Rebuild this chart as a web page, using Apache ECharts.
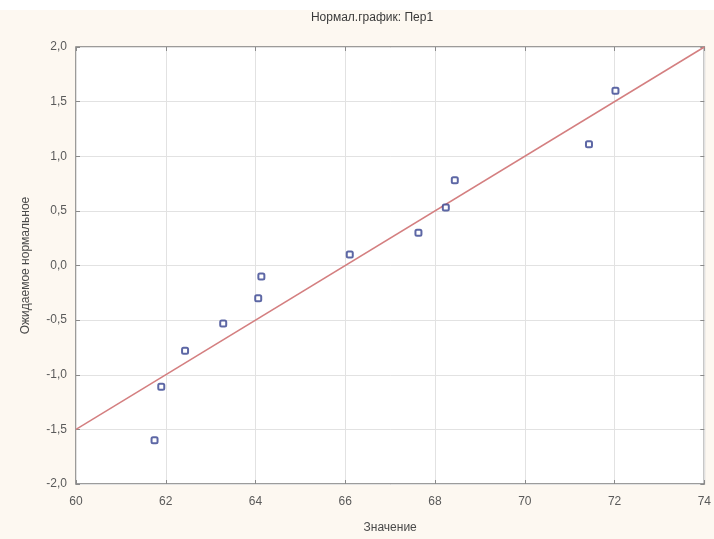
<!DOCTYPE html>
<html>
<head>
<meta charset="utf-8">
<script src="https://cdn.jsdelivr.net/npm/echarts@6/dist/echarts.min.js"></script>
<style>
  html, body { margin: 0; padding: 0; background: #fdf8f1; }
  #chart { width: 714px; height: 539px; }
</style>
</head>
<body>
<div id="chart"></div>
<script>
// Observed values (Пер1) and their expected normal scores
const values   = [61.75, 61.90, 62.43, 63.28, 64.06, 64.13, 66.10, 67.63, 68.24, 68.44, 71.43, 72.02];
const expected = [-1.60, -1.11, -0.78, -0.53, -0.30, -0.10, 0.10, 0.30, 0.53, 0.78, 1.11, 1.60];

// Reference normal line end points
const lineX = [60, 74];
const lineY = [-1.5, 2.0];

const xTicks = { min: 60, max: 74, step: 2 };
const yTicks = { min: -2, max: 2, step: 0.5 };

const chart = echarts.init(document.getElementById('chart'), null, { renderer: 'canvas' });

const labelFont = { color: '#5a5a5a', fontSize: 12, fontFamily: 'Liberation Sans, Arial, sans-serif' };
const tickStyle = { show: true, inside: true, length: 4, lineStyle: { color: '#8a8a8a', width: 1 } };
const noLine = { show: false, onZero: false };

chart.setOption({
  backgroundColor: '#fdf8f1',
  animation: false,
  graphic: [{
    type: 'rect', left: 0, top: 0, z: -10,
    shape: { width: 714, height: 10 },
    style: { fill: '#ffffff' }
  }],
  title: {
    text: 'Нормал.график: Пер1',
    left: 367, top: 7, textAlign: 'center',
    textStyle: { color: '#3a3a3a', fontSize: 12, fontWeight: 'normal', fontFamily: 'Liberation Sans, Arial, sans-serif' }
  },
  grid: {
    left: 76, top: 47, right: 4, bottom: 49,
    show: true, backgroundColor: '#ffffff',
    borderColor: '#7c7c7c', borderWidth: 1.5
  },
  xAxis: [{
    type: 'value', min: xTicks.min, max: xTicks.max, interval: xTicks.step,
    name: 'Значение', nameLocation: 'middle', nameGap: 38,
    nameTextStyle: { color: '#4a4a4a', fontSize: 12, fontFamily: 'Liberation Sans, Arial, sans-serif' },
    axisLine: noLine,
    axisTick: tickStyle,
    axisLabel: Object.assign({ margin: 12 }, labelFont),
    splitLine: { show: true, lineStyle: { color: '#e2e2e2', width: 1 } }
  }, {
    type: 'value', position: 'top', min: xTicks.min, max: xTicks.max, interval: xTicks.step,
    axisLine: noLine, axisTick: tickStyle, axisLabel: { show: false }, splitLine: { show: false }
  }],
  yAxis: [{
    type: 'value', min: yTicks.min, max: yTicks.max, interval: yTicks.step,
    name: 'Ожидаемое нормальное', nameLocation: 'middle', nameGap: 44, nameRotate: 90,
    nameTextStyle: { color: '#4a4a4a', fontSize: 12, fontFamily: 'Liberation Sans, Arial, sans-serif' },
    axisLine: noLine,
    axisTick: tickStyle,
    axisLabel: Object.assign({
      margin: 9,
      formatter: v => v.toFixed(1).replace('.', ',')
    }, labelFont),
    splitLine: { show: true, lineStyle: { color: '#e2e2e2', width: 1 } }
  }, {
    type: 'value', position: 'right', min: yTicks.min, max: yTicks.max, interval: yTicks.step,
    axisLine: noLine, axisTick: tickStyle, axisLabel: { show: false }, splitLine: { show: false }
  }],
  series: [{
    type: 'line',
    data: lineX.map((x, i) => [x, lineY[i]]),
    symbol: 'none',
    lineStyle: { color: '#d47f80', width: 1.5 },
    z: 2
  }, {
    type: 'scatter',
    data: values.map((v, i) => [v, expected[i]]),
    symbol: 'emptyRoundRect',
    symbolSize: 6,
    itemStyle: { color: '#35418f', borderColor: '#35418f', borderWidth: 1.2 },
    z: 3
  }]
});
</script>
</body>
</html>
